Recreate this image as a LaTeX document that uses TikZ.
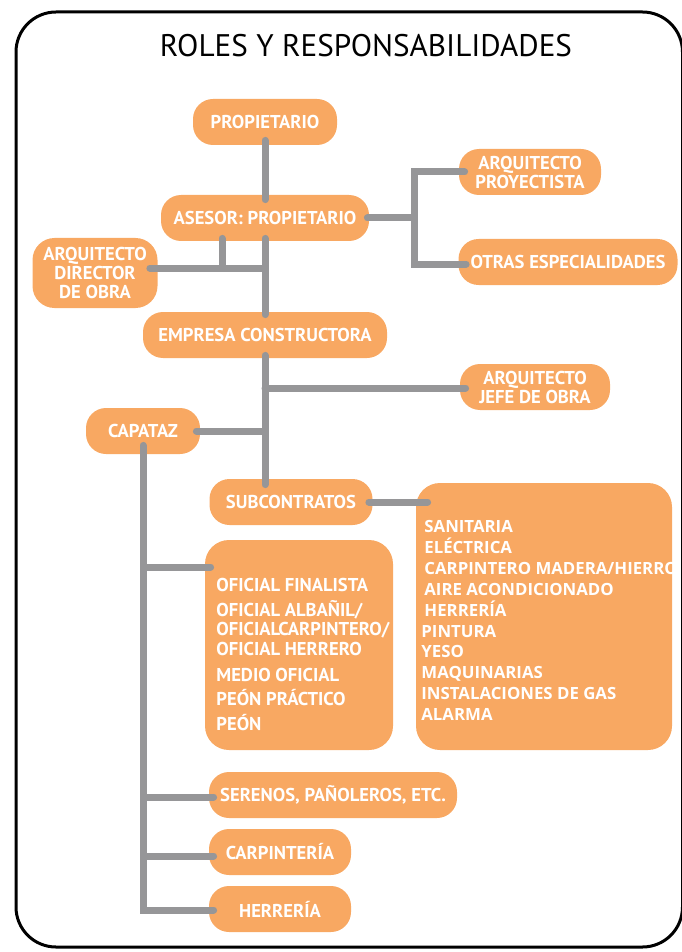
\documentclass[tikz,border=0pt]{standalone}
\usepackage{fontspec}
\setmainfont{PT Sans}
\newfontfamily\listfont{Open Sans}
\definecolor{org}{RGB}{248,168,98}
\definecolor{gry}{RGB}{150,150,152}
\begin{document}
\begin{tikzpicture}[x=0.5pt,y=-0.5pt,
  box/.style={fill=org, rounded corners=10pt, inner sep=0pt, text=white,
    font=\bfseries\fontsize{9.3}{9.5}\selectfont, align=center},
  bigbox/.style={fill=org, rounded corners=12pt, inner sep=0pt},
  otxt/.style={anchor=base west, inner sep=0pt, text=white, font=\bfseries\fontsize{9.3}{9}\selectfont},
  ltxt/.style={anchor=base west, inner sep=0pt, text=white, font=\listfont\bfseries\fontsize{8.4}{9}\selectfont},
  conn/.style={draw=gry, line width=3.5pt, line cap=round}]
\useasboundingbox (0,0) rectangle (681,952);
\draw[line width=1.5pt, rounded corners=20pt] (16,12) rectangle (682.5,947);
\node[font=\fontsize{15.6}{18}\selectfont] (title) at (366,46) {ROLES Y RESPONSABILIDADES};
% nodes
\node[box, minimum width=72pt, minimum height=23pt] (prop) at (265,122) {PROPIETARIO};
\node[box, minimum width=104pt, minimum height=23pt] (ases) at (265,218) {ASESOR: PROPIETARIO};
\node[box, minimum width=71pt, minimum height=23pt] (proy) at (530,172) {ARQUITECTO\\PROYECTISTA};
\node[box, minimum width=109.5pt, minimum height=23pt] (otras) at (568,262) {OTRAS ESPECIALIDADES};
\node[box, rounded corners=11pt, minimum width=62.5pt, minimum height=35pt] (dir) at (95,273) {ARQUITECTO\\DIRECTOR\\DE OBRA};
\node[box, minimum width=122pt, minimum height=23pt] (emp) at (265,335) {EMPRESA CONSTRUCTORA};
\node[box, minimum width=75pt, minimum height=23pt] (jefe) at (535,387) {ARQUITECTO\\JEFE DE OBRA};
\node[box, minimum width=57pt, minimum height=23pt] (cap) at (143,431) {CAPATAZ};
\node[box, minimum width=81.5pt, minimum height=23pt] (sub) at (291,502) {SUBCONTRATOS};
\node[bigbox, minimum width=128pt, minimum height=133.5pt] (lst) at (544,616.5) {};
\node[bigbox, minimum width=94pt, minimum height=105pt] (ofi) at (299,645) {};
\node[box, minimum width=124pt, minimum height=23pt] (ser) at (333,795) {SERENOS, PAÑOLEROS, ETC.};
\node[box, minimum width=71pt, minimum height=23pt] (carp) at (280,852) {CARPINTERÍA};
\node[box, minimum width=71pt, minimum height=23pt] (herr) at (280,909) {HERRERÍA};
% oficial texts
\node[otxt] (o1) at (216,591) {OFICIAL FINALISTA};
\node[otxt] (o2) at (216,616) {OFICIAL ALBAÑIL/};
\node[otxt] (o3) at (216,635) {OFICIALCARPINTERO/};
\node[otxt] (o4) at (216,655) {OFICIAL HERRERO};
\node[otxt] (o5) at (216,681) {MEDIO OFICIAL};
\node[otxt] (o6) at (216,705) {PEÓN PRÁCTICO};
\node[otxt] (o7) at (216,730) {PEÓN};
% list texts
\node[ltxt] (l1) at (424,532) {SANITARIA};
\node[ltxt] (l2) at (424,553) {ELÉCTRICA};
\node[ltxt] (l3) at (424,574) {CARPINTERO MADERA/HIERRO};
\node[ltxt] (l4) at (424,595) {AIRE ACONDICIONADO};
\node[ltxt] (l5) at (424,616) {HERRERÍA};
\node[ltxt] (l6) at (421,637) {PINTURA};
\node[ltxt] (l7) at (421,657) {YESO};
\node[ltxt] (l8) at (421,678) {MAQUINARIAS};
\node[ltxt] (l9) at (421,699) {INSTALACIONES DE GAS};
\node[ltxt] (l10) at (421,720) {ALARMA};
% junction coordinates
\coordinate (ja) at (414,218);
\coordinate (jb) at (265,268);
\coordinate (kj) at (265,388);
\coordinate (kc) at (265,431);
% connectors
\draw[conn] ([yshift=2.5pt]prop.south) -- ([yshift=-2.5pt]ases.north);
\draw[conn] ([xshift=-1pt]ases.east) -- (ja);
\draw[conn] ([xshift=3pt]proy.west) -| (ja) |- ([xshift=4pt,yshift=-1pt]otras.west);
\draw[conn] ([yshift=1.5pt]ases.south) -- ([yshift=-1.5pt]emp.north);
\draw[conn] ([xshift=-4pt,yshift=2.5pt]dir.east) -- (jb);
\draw[conn] ([xshift=-21.5pt,yshift=1.5pt]ases.south) -- ++(0,30);
\draw[conn] ([yshift=1.5pt]emp.south) -- ([xshift=-13pt,yshift=-3pt]sub.north);
\draw[conn] (kj) -- ([xshift=3pt,yshift=-0.5pt]jefe.west);
\draw[conn] ([xshift=-2pt]cap.east) -- (kc);
\draw[conn] ([xshift=-2pt]sub.east) -- ([xshift=6pt,yshift=57.25pt]lst.west);
\draw[conn] ([yshift=4.5pt]cap.south) |- ([xshift=2.5pt,yshift=-0.5pt]herr.west);
\draw[conn] ([xshift=-30.5pt,yshift=39pt]ofi.west) -- ([xshift=3pt,yshift=39pt]ofi.west);
\draw[conn] ([xshift=-32.5pt,yshift=-1pt]ser.west) -- ([xshift=2.5pt,yshift=-1pt]ser.west);
\draw[conn] ([xshift=-32.5pt,yshift=-2pt]carp.west) -- ([xshift=2.5pt,yshift=-2pt]carp.west);
\end{tikzpicture}
\end{document}
